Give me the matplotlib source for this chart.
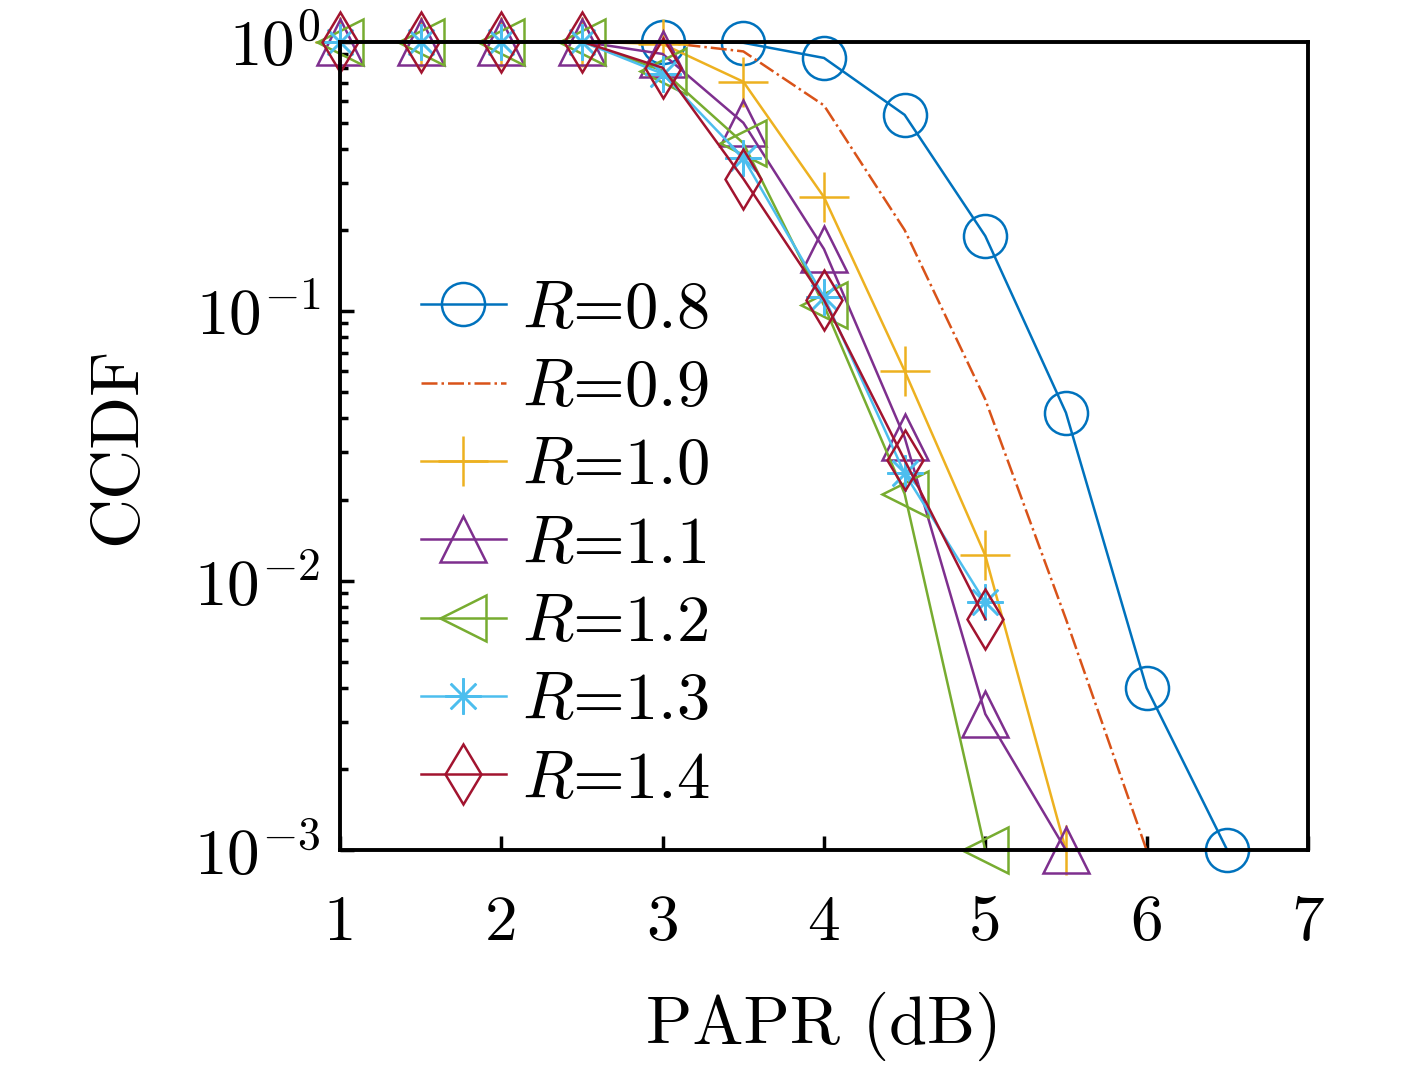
import matplotlib
matplotlib.use('Agg')
import matplotlib.pyplot as plt
import numpy as np

plt.rcParams['font.family'] = 'serif'
plt.rcParams['font.serif'] = ['cmr10']
plt.rcParams['mathtext.fontset'] = 'cm'
plt.rcParams['axes.formatter.use_mathtext'] = True

# PAPR (dB) and CCDF values
x_08 = [3.0, 3.5, 4.0, 4.5, 5.0, 5.5, 6.0, 6.5]
y_08 = [1.0, 0.99, 0.87, 0.535, 0.19, 0.042, 0.004, 0.001]

x_09 = [1.0, 1.5, 2.0, 2.5, 3.0, 3.5, 4.0, 4.5, 5.0, 5.5, 6.0]
y_09 = [1.0, 1.0, 1.0, 1.0, 0.995, 0.92, 0.58, 0.2, 0.047, 0.0072, 0.001]

x_10 = [1.0, 1.5, 2.0, 2.5, 3.0, 3.5, 4.0, 4.5, 5.0, 5.5]
y_10 = [1.0, 1.0, 1.0, 1.0, 0.98, 0.71, 0.265, 0.06, 0.0124, 0.001]

x_11 = [1.0, 1.5, 2.0, 2.5, 3.0, 3.5, 4.0, 4.5, 5.0, 5.5]
y_11 = [1.0, 1.0, 1.0, 1.0, 0.9, 0.5, 0.17, 0.034, 0.0032, 0.001]

x_12 = [1.0, 1.5, 2.0, 2.5, 3.0, 3.5, 4.0, 4.5, 5.0]
y_12 = [1.0, 1.0, 1.0, 1.0, 0.78, 0.42, 0.105, 0.021, 0.001]

x_13 = [1.0, 1.5, 2.0, 2.5, 3.0, 3.5, 4.0, 4.5, 5.0]
y_13 = [1.0, 1.0, 1.0, 1.0, 0.76, 0.37, 0.113, 0.025, 0.0083]

x_14 = [1.0, 1.5, 2.0, 2.5, 3.0, 3.5, 4.0, 4.5, 5.0]
y_14 = [1.0, 1.0, 1.0, 1.0, 0.8, 0.31, 0.11, 0.028, 0.0072]

labels = [r'$R$=0.8', r'$R$=0.9', r'$R$=1.0', r'$R$=1.1', r'$R$=1.2', r'$R$=1.3', r'$R$=1.4']
xticks = [1, 2, 3, 4, 5, 6, 7]
yticks = [1e-3, 1e-2, 1e-1, 1e0]
ytick_labels = [r'$10^{-3}$', r'$10^{-2}$', r'$10^{-1}$', r'$10^{0}$']

fig = plt.figure(figsize=(14.17, 10.68), dpi=100)
ax = fig.add_axes([0.240, 0.204, 0.683, 0.757])

lw = 1.8
mew = 1.8
ax.plot(x_08, y_08, '-', color='#0072BD', lw=lw, marker='o', ms=31, mfc='none', mew=mew, label=labels[0])
ax.plot(x_09, y_09, '-.', color='#D95319', lw=lw, label=labels[1])
ax.plot(x_10, y_10, '-', color='#EDB120', lw=lw, marker='+', ms=36, mew=mew, label=labels[2])
ax.plot(x_11, y_11, '-', color='#7E2F8E', lw=lw, marker='^', ms=33, mfc='none', mew=mew, label=labels[3])
ax.plot(x_12, y_12, '-', color='#77AC30', lw=lw, marker='<', ms=33, mfc='none', mew=mew, label=labels[4])
ax.plot(x_13, y_13, '-', color='#4DBEEE', lw=lw, marker=(8, 2, 0), ms=26, mew=mew, label=labels[5])
ax.plot(x_14, y_14, '-', color='#A2142F', lw=lw, marker='d', ms=31, mfc='none', mew=mew, label=labels[6])

ax.set_yscale('log')
ax.set_xlim(1, 7)
ax.set_ylim(1e-3, 1)
ax.set_xticks(xticks)
ax.set_xticklabels([str(t) for t in xticks])
ax.set_yticks(yticks)
ax.set_yticklabels(ytick_labels)
ax.tick_params(axis='both', which='major', direction='in', length=10, width=2.5, labelsize=47)
ax.tick_params(axis='x', which='major', pad=32)
ax.tick_params(axis='y', which='major', pad=14)
ax.tick_params(axis='y', which='minor', direction='in', length=6, width=2.5)
ax.tick_params(axis='x', which='minor', bottom=False)
for s in ax.spines.values():
    s.set_linewidth(2.8)

ax.set_xlabel('PAPR (dB)', fontsize=49, labelpad=28)
ax.set_ylabel('CCDF', fontsize=50, labelpad=33)

for line in ax.get_lines():
    line.set_clip_on(False)

ax.legend(loc='upper left', bbox_to_anchor=(0.049, 0.745), frameon=False, fontsize=48,
          handlelength=1.27, handletextpad=0.25, labelspacing=0.28, borderpad=0)

fig.savefig('out.png', dpi=100)
